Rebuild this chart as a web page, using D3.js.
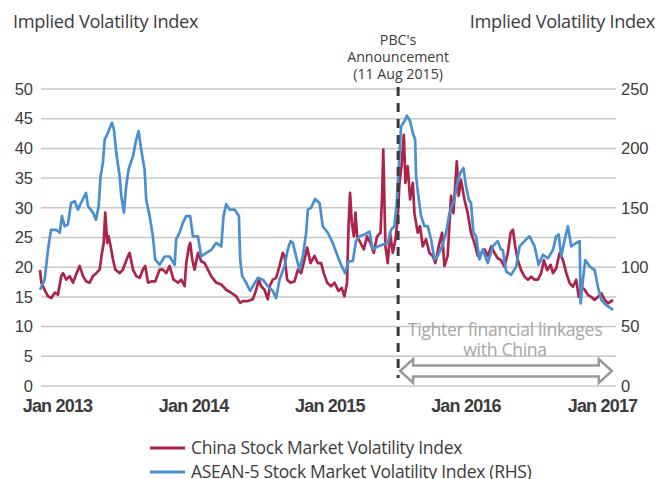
<!DOCTYPE html>
<meta charset="utf-8">
<style>
body { margin: 0; background: #fff; }
svg { display: block; font-family: "Open Sans", sans-serif; }
.grid line { stroke: #c8c8c8; stroke-width: 1.5px; }
.axis text { fill: #3c3c3c; font-size: 16.5px; }
.axis--x text { font-weight: bold; font-size: 18px; letter-spacing: -0.8px; }
.title { fill: #3c3c3c; font-size: 18.2px; letter-spacing: -0.3px; }
.note { fill: #3c3c3c; font-size: 14.2px; }
.linkage { fill: #a6a6a6; font-size: 17.6px; letter-spacing: -0.3px; }
.legend text { fill: #3c3c3c; font-size: 17.5px; letter-spacing: -0.3px; }
</style>
<body>
<svg width="670" height="479"></svg>
<script src="https://d3js.org/d3.v7.min.js"></script>
<script>

// dates as decimal years
var chinaT = [2012.978,2012.988,2013.012,2013.037,2013.061,2013.086,2013.110,2013.134,2013.147,2013.171,2013.196,2013.220,2013.244,2013.269,2013.294,2013.318,2013.343,2013.367,2013.391,2013.416,2013.433,2013.446,2013.457,2013.472,2013.482,2013.497,2013.514,2013.531,2013.563,2013.587,2013.619,2013.636,2013.661,2013.685,2013.710,2013.734,2013.751,2013.771,2013.795,2013.824,2013.857,2013.881,2013.905,2013.930,2013.959,2013.991,
  2014.015,2014.040,2014.052,2014.072,2014.081,2014.096,2014.113,2014.138,2014.162,2014.187,2014.211,2014.235,2014.272,2014.309,2014.345,2014.382,2014.419,2014.448,2014.468,2014.505,2014.541,2014.566,2014.585,2014.602,2014.627,2014.651,2014.668,2014.688,2014.712,2014.737,2014.761,2014.774,2014.793,2014.818,2014.847,2014.872,2014.896,2014.921,2014.940,2014.965,2014.994,
  2015.018,2015.043,2015.062,2015.087,2015.116,2015.141,2015.170,2015.194,2015.214,2015.233,2015.244,2015.255,2015.268,2015.283,2015.295,2015.307,2015.332,2015.356,2015.380,2015.405,2015.429,2015.454,2015.479,2015.492,2015.499,2015.515,2015.532,2015.549,2015.569,2015.589,2015.606,2015.618,2015.633,2015.650,2015.662,2015.679,2015.696,2015.716,2015.728,2015.752,2015.769,2015.789,2015.813,2015.838,2015.862,2015.882,2015.906,2015.931,2015.948,2015.972,2015.997,
  2016.014,2016.039,2016.053,2016.070,2016.095,2016.119,2016.143,2016.168,2016.193,2016.217,2016.242,2016.266,2016.291,2016.315,2016.339,2016.363,2016.388,2016.413,2016.433,2016.450,2016.467,2016.486,2016.510,2016.535,2016.560,2016.584,2016.609,2016.633,2016.657,2016.677,2016.701,2016.726,2016.743,2016.767,2016.792,2016.817,2016.841,2016.866,2016.890,2016.914,2016.932,2016.951,2016.976,
  2017.000,2017.024,2017.049,2017.073,2017.098,2017.123,2017.147,2017.184];
var chinaV = [19.5,17.4,16.2,15.1,14.8,15.7,15.4,18.5,19.0,17.9,18.5,17.4,18.8,20.2,18.5,17.6,17.4,18.5,19.0,19.6,22.4,24.1,29.2,24.1,25.2,23.5,21.3,19.6,19.0,19.6,21.6,22.4,19.6,18.5,18.2,19.6,20.2,17.4,17.6,17.6,19.6,19.6,19.0,20.2,17.9,17.4,
  17.9,16.8,20.7,23.5,24.1,21.3,19.6,22.4,21.0,20.7,19.6,18.5,17.4,17.1,16.2,15.7,15.1,14.0,14.3,14.3,14.6,16.2,17.9,16.8,16.2,14.6,17.0,17.9,18.2,20.2,22.4,21.9,17.9,17.4,17.6,19.6,19.0,21.3,23.3,20.7,21.9,
  20.7,20.7,19.0,17.4,16.8,17.4,16.0,16.5,15.1,17.4,26.9,32.5,27.5,25.2,29.2,25.2,24.1,23.0,25.2,24.1,22.4,25.2,25.8,33.0,39.8,23.5,20.7,25.8,22.4,24.7,28.6,34.2,37.0,42.3,34.2,37.0,31.4,34.2,29.1,25.8,26.9,23.5,24.7,22.4,21.9,20.7,23.5,25.8,20.2,21.9,32.0,
  29.1,37.8,32.0,34.7,31.4,29.1,25.8,24.1,21.9,22.4,23.0,21.9,23.5,22.4,21.5,21.2,20.1,22.4,25.8,26.3,23.5,21.2,19.5,18.4,17.9,18.4,17.9,17.9,19.0,21.2,19.5,20.4,19.0,19.8,22.4,21.2,19.0,17.3,16.7,17.9,15.0,16.7,16.2,
  15.3,15.0,14.5,15.0,15.6,14.5,13.9,14.5];

var aseanT = [2012.978,2013.012,2013.037,2013.059,2013.095,2013.123,2013.139,2013.159,2013.183,2013.206,2013.233,2013.257,2013.279,2013.316,2013.330,2013.367,2013.389,2013.409,2013.423,2013.440,2013.453,2013.477,2013.506,2013.521,2013.538,2013.563,2013.575,2013.594,2013.611,2013.629,2013.661,2013.685,2013.702,2013.721,2013.746,2013.758,2013.783,2013.807,2013.824,2013.857,2013.893,2013.930,2013.967,2013.978,
  2014.003,2014.028,2014.052,2014.081,2014.101,2014.138,2014.162,2014.199,2014.235,2014.272,2014.309,2014.326,2014.345,2014.370,2014.407,2014.439,2014.448,2014.463,2014.492,2014.521,2014.541,2014.578,2014.615,2014.651,2014.688,2014.712,2014.737,2014.774,2014.798,2014.818,2014.835,2014.859,2014.884,2014.908,2014.933,2014.945,2014.969,2014.999,
  2015.031,2015.055,2015.092,2015.128,2015.165,2015.189,2015.219,2015.244,2015.275,2015.299,2015.324,2015.361,2015.398,2015.422,2015.459,2015.495,2015.532,2015.556,2015.581,2015.598,2015.613,2015.630,2015.655,2015.672,2015.696,2015.716,2015.733,2015.740,2015.760,2015.777,2015.801,2015.826,2015.850,2015.875,2015.899,2015.931,2015.960,2015.985,
  2016.022,2016.046,2016.070,2016.088,2016.107,2016.127,2016.143,2016.161,2016.180,2016.205,2016.229,2016.266,2016.303,2016.339,2016.361,2016.376,2016.400,2016.437,2016.474,2016.499,2016.535,2016.572,2016.609,2016.638,2016.670,2016.706,2016.743,2016.767,2016.785,2016.804,2016.829,2016.853,2016.877,2016.914,2016.939,2016.946,2016.963,2016.980,
  2017.013,2017.049,2017.073,2017.098,2017.134,2017.184];
var aseanV = [81,89.5,115,131.5,131.5,129,143,134.5,136,154,155.5,148.5,154,162.5,151.5,146,140,151.5,176.5,188,207.5,213,221.5,216,196.5,176.5,160,146,168.5,182.5,193.5,207.5,214.5,199,182.5,157,143,126,106.5,102,109,109,102,123.5,
  129,137.5,143,143,126,126,109,112,114.5,120.5,117.5,143,153,148.5,148.5,143,106.5,92.5,87,80,84,91,89.5,84,80,74,89.5,101,115,122,120.5,109,98,109,129,148.5,150,157.5,
  154,134.5,129,120.5,109,102,95,105,105,122,126,127.5,130,115,117.5,119,120.5,131.5,134.5,154,185,218.5,223,227.5,223,213,207.5,176.5,157,143,134.5,134.5,123.5,106.5,109.5,117.5,129,145.5,
  157,173.5,180.5,183.5,168,157,154,129,126,106.5,115,103.5,117.5,122,115,114.5,96.5,93.5,100.5,117.5,122,126,117.5,102,110.5,107.5,114.5,126,127.5,109,123,134.5,117.5,120.5,122,69.5,89.5,106,
  100.5,97.5,83.5,72.5,68,64];

var leftTicks = [0, 5, 10, 15, 20, 25, 30, 35, 40, 45, 50];
var rightTicks = [0, 50, 100, 150, 200, 250];
var yearTicks = ["2013-01-01", "2014-01-01", "2015-01-01", "2016-01-01", "2017-01-01"];
var pbcDate = "2015-08-11";
var seriesNames = ["China Stock Market Volatility Index", "ASEAN-5 Stock Market Volatility Index (RHS)"];
var colors = ["#ad2349", "#4a8fd0"];

function toDate(t) {
  var y = Math.floor(t), s = new Date(y, 0, 1), e = new Date(y + 1, 0, 1);
  return new Date(+s + (t - y) * (e - s));
}
var parse = d3.timeParse("%Y-%m-%d");

var svg = d3.select("svg");
var plotL = 41, plotR = 616, plotT = 89, plotB = 386;

var x = d3.scaleTime()
    .domain([parse("2013-01-01"), parse("2017-01-01")])
    .range([43, 588]);
var yL = d3.scaleLinear().domain([0, 50]).range([plotB, plotT]);
var yR = d3.scaleLinear().domain([0, 250]).range([plotB, plotT]);

// gridlines
svg.append("g").attr("class", "grid")
  .selectAll("line").data(leftTicks).enter().append("line")
    .attr("x1", plotL).attr("x2", plotR)
    .attr("y1", function(d) { return yL(d); })
    .attr("y2", function(d) { return yL(d); });

// axes
svg.append("g")
    .attr("class", "axis axis--y")
    .attr("transform", "translate(" + plotL + ",0)")
    .call(d3.axisLeft(yL).tickValues(leftTicks).tickSize(0).tickPadding(8))
    .call(function(g) { g.select(".domain").remove(); });

svg.append("g")
    .attr("class", "axis axis--y2")
    .attr("transform", "translate(" + plotR + ",0)")
    .call(d3.axisRight(yR).tickValues(rightTicks).tickSize(0).tickPadding(5))
    .call(function(g) { g.select(".domain").remove(); });

svg.append("g")
    .attr("class", "axis axis--x")
    .attr("transform", "translate(0," + plotB + ")")
    .call(d3.axisBottom(x).tickValues(yearTicks.map(parse)).tickSize(0).tickPadding(13)
      .tickFormat(d3.timeFormat("%b %Y")))
    .call(function(g) { g.select(".domain").remove(); })
    .selectAll("text").attr("dx", 14);

svg.selectAll(".axis text").attr("font-family", null).attr("font-size", null);

// series
var chinaData = chinaT.map(function(t, i) { return {date: toDate(t), v: chinaV[i]}; });
var aseanData = aseanT.map(function(t, i) { return {date: toDate(t), v: aseanV[i]}; });

var lineL = d3.line().x(function(d) { return x(d.date); }).y(function(d) { return yL(d.v); });
var lineR = d3.line().x(function(d) { return x(d.date); }).y(function(d) { return yR(d.v); });

svg.append("path").datum(chinaData)
    .attr("d", lineL).attr("fill", "none")
    .attr("stroke", colors[0]).attr("stroke-width", 2.7).attr("stroke-linejoin", "round");
svg.append("path").datum(aseanData)
    .attr("d", lineR).attr("fill", "none")
    .attr("stroke", colors[1]).attr("stroke-width", 2.7).attr("stroke-linejoin", "round");

// PBC announcement
var px = x(parse(pbcDate));
svg.append("line")
    .attr("x1", px).attr("x2", px).attr("y1", plotT - 2).attr("y2", 378)
    .attr("stroke", "#3a3a3a").attr("stroke-width", 3).attr("stroke-dasharray", "9,7");

svg.append("text").attr("class", "note").attr("text-anchor", "middle")
  .selectAll("tspan").data(["PBC's", "Announcement", "(11 Aug 2015)"]).enter().append("tspan")
    .attr("x", px).attr("y", function(d, i) { return 45 + i * 17; })
    .text(function(d) { return d; });

// titles
svg.append("text").attr("class", "title").attr("x", 13).attr("y", 28).text("Implied Volatility Index");
svg.append("text").attr("class", "title").attr("x", 655).attr("y", 28)
    .attr("text-anchor", "end").text("Implied Volatility Index");

// tighter linkages arrow
var ax0 = px + 2, ax1 = x(toDate(2017.175)), ay = 371;
var head = 13, hh = 12, sh = 5.5;
svg.append("path")
    .attr("d", "M" + ax0 + "," + ay +
      "L" + (ax0 + head) + "," + (ay - hh) + "V" + (ay - sh) + "H" + (ax1 - head) + "V" + (ay - hh) +
      "L" + ax1 + "," + ay +
      "L" + (ax1 - head) + "," + (ay + hh) + "V" + (ay + sh) + "H" + (ax0 + head) + "V" + (ay + hh) + "Z")
    .attr("fill", "#fff").attr("stroke", "#9a9a9a").attr("stroke-width", 2.5).attr("stroke-linejoin", "miter");

svg.append("text").attr("class", "linkage").attr("text-anchor", "middle")
  .selectAll("tspan").data(["Tighter financial linkages", "with China"]).enter().append("tspan")
    .attr("x", 505).attr("y", function(d, i) { return 336 + i * 20; })
    .text(function(d) { return d; });

// legend
var legend = svg.append("g").attr("class", "legend")
  .selectAll("g").data(seriesNames).enter().append("g")
    .attr("transform", function(d, i) { return "translate(150," + (448 + i * 24) + ")"; });
legend.append("line").attr("x1", 0).attr("x2", 35)
    .attr("stroke", function(d, i) { return colors[i]; }).attr("stroke-width", 3);
legend.append("text").attr("x", 41).attr("y", 6).text(function(d) { return d; });

</script>
</body>
